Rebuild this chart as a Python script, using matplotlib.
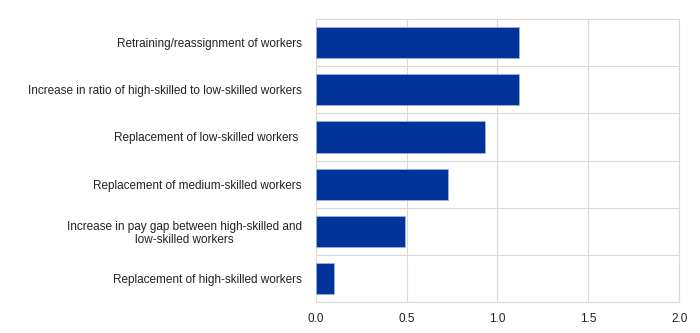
import matplotlib
matplotlib.use("Agg")
from matplotlib import pyplot as plt
import numpy as np

plt.rcParams['font.family'] = ['Liberation Sans', 'DejaVu Sans']

# categories top to bottom
labels = [
    "Retraining/reassignment of workers",
    "Increase in ratio of high-skilled to low-skilled workers",
    "Replacement of low-skilled workers ",
    "Replacement of medium-skilled workers",
    "Increase in pay gap between high-skilled and\nlow-skilled workers",
    "Replacement of high-skilled workers",
]
values = [1.12, 1.12, 0.93, 0.73, 0.49, 0.10]
xticks = [0.0, 0.5, 1.0, 1.5, 2.0]

fig = plt.figure(figsize=(7, 3.33), dpi=100)
ax = fig.add_axes([0.451, 0.094, 0.5194, 0.848])

y = np.arange(len(labels))[::-1]
ax.barh(y, values, height=0.66, color="#003299", edgecolor="#9db0dd", linewidth=0.6, zorder=3)

ax.set_ylim(-0.5, len(labels) - 0.5)
ax.set_xlim(0, 2.0)
ax.set_xticks(xticks)
ax.set_xticklabels([f"{t:.1f}" for t in xticks])
ax.set_yticks(y)
ax.set_yticklabels(labels, multialignment="center")

# grid on category boundaries and x ticks
ax.set_yticks(np.arange(-0.5, len(labels), 1.0), minor=True)
ax.grid(axis="y", which="minor", color="#d9d9d9", linewidth=0.8, zorder=0)
ax.grid(axis="x", which="major", color="#d9d9d9", linewidth=0.8, zorder=0)

for s in ax.spines.values():
    s.set_color("#d9d9d9")
    s.set_linewidth(0.8)

ax.tick_params(axis="both", which="both", length=0, labelsize=8.5, colors="#222222")
ax.tick_params(axis="y", pad=10)
ax.tick_params(axis="x", pad=8)

fig.savefig("out.png", dpi=100)
